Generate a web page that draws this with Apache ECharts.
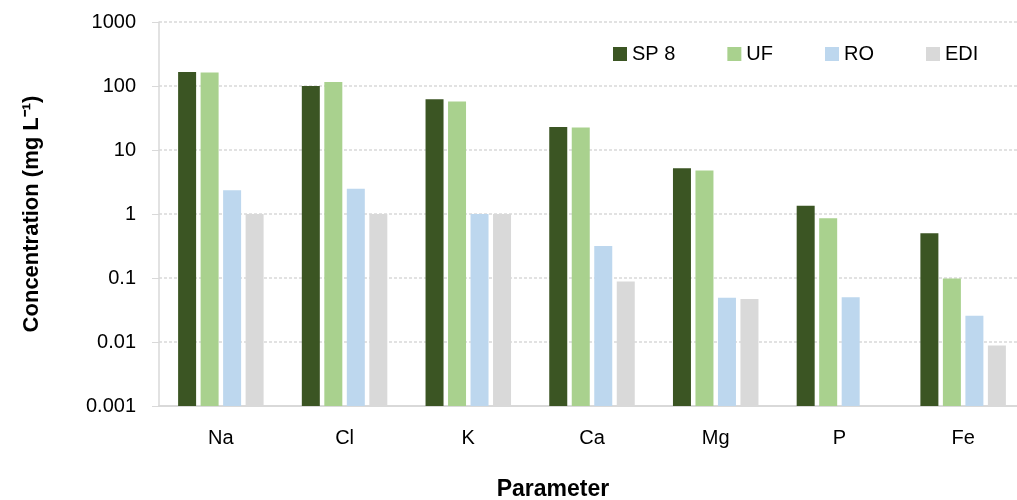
<!DOCTYPE html>
<html>
<head>
<meta charset="utf-8">
<script src="https://cdn.jsdelivr.net/npm/echarts@6/dist/echarts.min.js"></script>
<style>
  html, body { margin: 0; padding: 0; background: #fff; }
  #chart { width: 1017px; height: 500px; }
</style>
</head>
<body>
<div id="chart"></div>
<script>
var categories = ['Na', 'Cl', 'K', 'Ca', 'Mg', 'P', 'Fe'];
var sp8 = [166, 100, 62, 22.9, 5.2, 1.34, 0.50];
var uf  = [163, 115, 57, 22.5, 4.8, 0.86, 0.098];
var ro  = [2.35, 2.47, 1.0, 0.316, 0.049, 0.050, 0.0257];
var edi = [1.0, 1.0, 1.0, 0.088, 0.047, null, 0.0088];

// log axis from 0.001 to 1000: bars must grow from 0.001, so the
// value axis holds decades above the floor (log10(v) + 3)
var floorExp = -3;
var font = 'Liberation Sans';
var myChart = echarts.init(document.getElementById('chart'));

function bar(name, data, color) {
	return {
		name: name,
		type: 'bar',
		data: data.map(function (v) { return v == null ? '-' : Math.log10(v) - floorExp; }),
		barWidth: 18,
		barGap: '25%',
		itemStyle: { color: color }
	};
}

function tickLabel(v) {
	var e = Math.round(v + floorExp);
	return e >= 0 ? String(Math.pow(10, e)) : (Math.pow(10, e)).toFixed(-e);
}

myChart.setOption({
	animation: false,
	textStyle: { fontFamily: font },
	legend: {
		left: 608,
		top: 39,
		itemWidth: 14,
		itemHeight: 14,
		itemGap: 52,
		icon: 'rect',
		textStyle: { fontSize: 20, color: '#000', fontFamily: font },
		data: ['SP 8', 'UF', 'RO', 'EDI']
	},
	grid: { left: 159, top: 22, width: 866, height: 384, containLabel: false, outerBoundsMode: 'none' },
	xAxis: {
		type: 'category',
		data: categories,
		axisTick: { show: false },
		axisLine: { lineStyle: { color: '#d9d9d9', width: 2 } },
		axisLabel: { fontSize: 20, color: '#000', margin: 22 },
		name: 'Parameter',
		nameLocation: 'middle',
		nameGap: 72,
		nameTextStyle: { fontSize: 23, fontWeight: 'bold', color: '#000', padding: [0, 78, 0, 0] }
	},
	yAxis: {
		type: 'value',
		min: 0,
		max: 6,
		interval: 1,
		axisLine: { show: true, lineStyle: { color: '#d9d9d9', width: 1.5 } },
		axisTick: { show: true, inside: false, length: 7, lineStyle: { color: '#d9d9d9' } },
		splitLine: { lineStyle: { color: '#d9d9d9', type: [3, 2], width: 1.5 } },
		axisLabel: {
			fontSize: 20,
			color: '#000',
			margin: 23,
			formatter: tickLabel
		},
		name: 'Concentration (mg L\u207B\u00B9)',
		nameLocation: 'middle',
		nameGap: 116,
		nameTextStyle: { fontSize: 22, fontWeight: 'bold', color: '#000' }
	},
	series: [
		bar('SP 8', sp8, '#3b5523'),
		bar('UF', uf, '#a9d18e'),
		bar('RO', ro, '#bdd7ee'),
		bar('EDI', edi, '#d9d9d9')
	]
});
</script>
</body>
</html>
